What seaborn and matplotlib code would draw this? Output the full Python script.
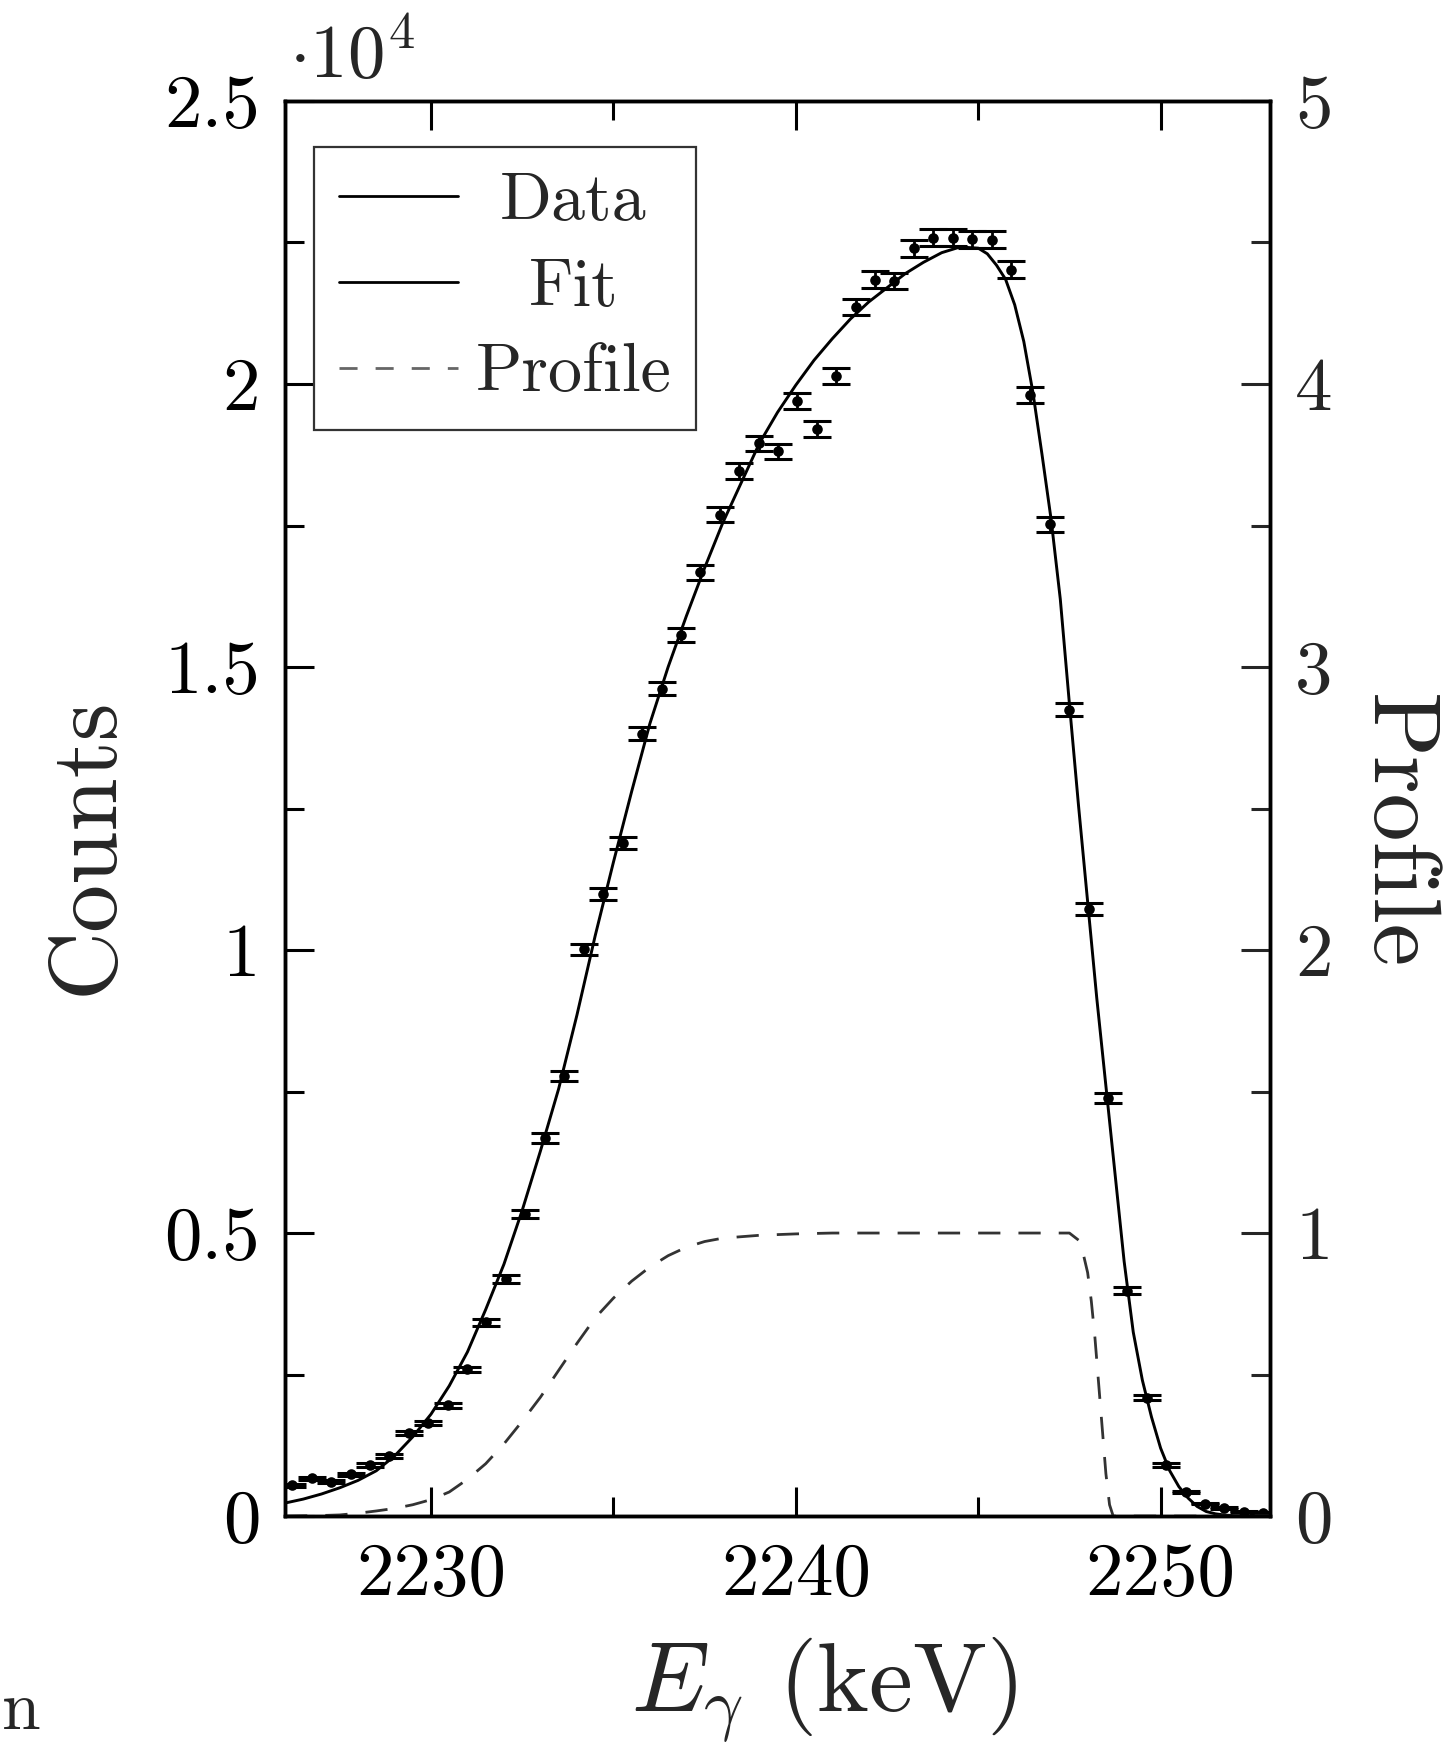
import numpy as np
import pandas as pd
import matplotlib
matplotlib.use("Agg")
import matplotlib.pyplot as plt
import seaborn as sns
from matplotlib.lines import Line2D
from matplotlib.ticker import MultipleLocator

# ---------------- data ----------------
energy = [2226.20, 2226.73, 2227.26, 2227.80, 2228.33, 2228.86, 2229.39, 2229.93,
          2230.46, 2230.99, 2231.52, 2232.06, 2232.59, 2233.12, 2233.65, 2234.19,
          2234.72, 2235.25, 2235.78, 2236.32, 2236.85, 2237.38, 2237.91, 2238.45,
          2238.98, 2239.51, 2240.04, 2240.57, 2241.11, 2241.64, 2242.17, 2242.70,
          2243.24, 2243.77, 2244.30, 2244.83, 2245.37, 2245.90, 2246.43, 2246.96,
          2247.50, 2248.03, 2248.56, 2249.09, 2249.63, 2250.16, 2250.69, 2251.22,
          2251.75, 2252.29, 2252.82]
counts = [540, 670, 610, 740, 900, 1060, 1470, 1640,
          1960, 2590, 3420, 4190, 5340, 6680, 7780, 10010,
          10990, 11890, 13820, 14620, 15560, 16670, 17690, 18460,
          18950, 18810, 19700, 19200, 20140, 21360, 21840, 21820,
          22400, 22580, 22580, 22560, 22550, 22020, 19800, 17520,
          14245, 10720, 7380, 3980, 2090, 900, 420, 220,
          140, 80, 60]
count_err = [23, 26, 25, 27, 30, 33, 38, 40,
             44, 51, 58, 65, 73, 82, 88, 100,
             105, 109, 118, 121, 125, 129, 133, 136,
             138, 137, 140, 139, 142, 146, 148, 148,
             150, 150, 150, 150, 150, 148, 141, 132,
             119, 104, 86, 63, 46, 30, 20, 15,
             12, 9, 8]

fit_energy = [2226.0, 2226.5, 2227.0, 2227.5, 2228.0, 2228.5, 2229.0, 2229.5,
              2230.0, 2230.5, 2231.0, 2231.5, 2232.0, 2232.5, 2233.0, 2233.5,
              2234.0, 2234.5, 2235.0, 2235.5, 2236.0, 2236.5, 2237.0, 2237.5,
              2238.0, 2238.5, 2239.0, 2239.5, 2240.0, 2240.5, 2241.0, 2241.5,
              2242.0, 2242.5, 2243.0, 2243.5, 2244.0, 2244.5, 2245.0, 2245.25,
              2245.5, 2245.75, 2246.0, 2246.25, 2246.5, 2246.75, 2247.0, 2247.25,
              2247.5, 2247.75, 2248.0, 2248.25, 2248.5, 2248.75, 2249.0, 2249.25,
              2249.5, 2249.75, 2250.0, 2250.25, 2250.5, 2250.75, 2251.0, 2251.25,
              2251.5, 2251.75, 2252.0, 2252.5, 2253.0]
fit_counts = [230, 300, 390, 500, 630, 800, 1060, 1400,
              1800, 2300, 2900, 3650, 4450, 5400, 6450, 7550,
              8850, 10250, 11550, 12800, 14000, 15000, 15900, 16750,
              17550, 18250, 18950, 19500, 19980, 20420, 20800, 21150,
              21450, 21700, 21950, 22150, 22320, 22420, 22400, 22300,
              22100, 21850, 21400, 20750, 19850, 18750, 17600, 16200,
              14350, 12550, 10850, 9150, 7600, 6050, 4500, 3250,
              2400, 1750, 1200, 800, 520, 320, 170, 80,
              40, 18, 8, 2, 0]

profile_energy = [2226.0, 2227.0, 2227.5, 2228.0, 2228.5, 2229.0, 2229.5, 2230.0,
                  2230.5, 2231.0, 2231.5, 2232.0, 2232.5, 2233.0, 2233.5, 2234.0,
                  2234.5, 2235.0, 2235.5, 2236.0, 2236.5, 2237.0, 2237.5, 2238.0,
                  2239.0, 2240.0, 2241.0, 2247.5, 2247.8, 2248.0, 2248.1, 2248.2,
                  2248.3, 2248.4, 2248.5, 2248.6, 2248.7, 2253.0]
profile_value = [0.000, 0.002, 0.004, 0.010, 0.018, 0.027, 0.040, 0.058,
                 0.085, 0.130, 0.185, 0.255, 0.335, 0.420, 0.515, 0.610,
                 0.700, 0.770, 0.830, 0.880, 0.920, 0.950, 0.970, 0.982,
                 0.992, 0.997, 1.000, 1.000, 0.970, 0.860, 0.760, 0.630,
                 0.470, 0.310, 0.150, 0.040, 0.000, 0.000]

y_ticks = [0, 5000, 10000, 15000, 20000, 25000]
y_ticklabels = ["0", "0.5", "1", "1.5", "2", "2.5"]
x_ticks = [2230, 2240, 2250]
x_ticklabels = ["2230", "2240", "2250"]
p_ticks = [0, 1, 2, 3, 4, 5]
p_ticklabels = ["0", "1", "2", "3", "4", "5"]
legend_labels = ["Data", "Fit", "Profile"]

# ---------------- style ----------------
sns.set_theme(style="ticks")
plt.rcParams["font.family"] = ["cmr10", "DejaVu Serif"]
plt.rcParams["mathtext.fontset"] = "cm"
plt.rcParams["axes.formatter.use_mathtext"] = True
plt.rcParams["axes.unicode_minus"] = False

TICK_FS = 54
LABEL_FS = 69
LEG_FS = 49

fig = plt.figure(figsize=(14.5, 17.44), dpi=100)
ax = fig.add_axes([0.1966, 0.1307, 0.6793, 0.8114])

df_data = pd.DataFrame({"energy": energy, "counts": counts, "err": count_err})
df_fit = pd.DataFrame({"energy": fit_energy, "counts": fit_counts})
df_prof = pd.DataFrame({"energy": profile_energy, "profile": profile_value})

# fit curve
sns.lineplot(data=df_fit, x="energy", y="counts", ax=ax, color="black",
             linewidth=2.1, legend=False, zorder=2)
# data with error bars
ax.errorbar(df_data["energy"], df_data["counts"], yerr=df_data["err"], fmt="none",
            ecolor="black", elinewidth=2.0, capsize=10.3, capthick=2.2, zorder=3)
sns.scatterplot(data=df_data, x="energy", y="counts", ax=ax, color="black",
                s=58, linewidth=0, legend=False, zorder=4)

ax.set_xlim(2226.0, 2253.0)
ax.set_ylim(0, 25000)
ax.set_xticks(x_ticks, labels=x_ticklabels)
ax.xaxis.set_minor_locator(MultipleLocator(5))
ax.set_yticks(y_ticks, labels=y_ticklabels)
ax.yaxis.set_minor_locator(MultipleLocator(2500))
ax.tick_params(axis="both", which="both", direction="in", colors="black")
ax.tick_params(axis="x", which="both", top=True, bottom=True)
ax.tick_params(axis="y", which="both", left=True, right=False)
ax.tick_params(which="major", length=21, width=2.2, labelsize=TICK_FS)
ax.tick_params(which="minor", length=14, width=2.2)
ax.tick_params(axis="x", which="major", pad=19)
ax.tick_params(axis="y", which="major", pad=18)
for sp in ax.spines.values():
    sp.set_linewidth(2.5)
    sp.set_color("black")

ax.set_xlabel(r"$E_\gamma$ (keV)", fontsize=LABEL_FS + 2)
ax.set_ylabel("Counts", fontsize=LABEL_FS)
ax.xaxis.label.set_va("center")
ax.yaxis.label.set_va("center")
ax.xaxis.set_label_coords(0.547, -0.123)
ax.yaxis.set_label_coords(-0.200, 0.474)

# multiplier text
ax.text(0.004, 1.0163, r"$\cdot 10^{4}$", transform=ax.transAxes,
        fontsize=TICK_FS, ha="left", va="baseline")

# profile on the right axis
ax2 = ax.twinx()
sns.lineplot(data=df_prof, x="energy", y="profile", ax=ax2, color="#333333",
             linewidth=2.0, linestyle=(0, (8, 6.5)), legend=False)
ax2.set_ylim(0, 5)
ax2.set_yticks(p_ticks, labels=p_ticklabels)
ax2.yaxis.set_minor_locator(MultipleLocator(0.5))
ax2.tick_params(axis="y", which="both", direction="in", right=True, left=False)
ax2.tick_params(which="major", length=21, width=2.2, labelsize=TICK_FS, pad=18)
ax2.tick_params(which="minor", length=14, width=2.2)
for sp in ax2.spines.values():
    sp.set_linewidth(2.5)
    sp.set_color("black")
ax2.set_ylabel("Profile", fontsize=LABEL_FS, rotation=270)
ax2.yaxis.label.set_va("center")
ax2.yaxis.set_label_coords(1.126, 0.484)
ax2.set_xlabel("")

handles = [Line2D([], [], color="black", lw=2.0),
           Line2D([], [], color="black", lw=2.0),
           Line2D([], [], color="#666666", lw=2.0, linestyle=(0, (6.5, 6.5)))]
leg = ax2.legend(handles, legend_labels, loc="upper left",
                 bbox_to_anchor=(0.0294, 0.9677), borderaxespad=0,
                 fontsize=LEG_FS, frameon=True, fancybox=False, framealpha=1,
                 edgecolor="#333333", handlelength=1.75, handletextpad=0.25,
                 labelspacing=0.36, borderpad=0.37)
leg.get_frame().set_linewidth(1.6)

# centre the legend texts within the text column (as in the reference)
fig.canvas.draw()
renderer = fig.canvas.get_renderer()
widths = [t.get_window_extent(renderer).width for t in leg.get_texts()]
maxw = max(widths)
rows = leg._legend_handle_box.get_children()[0].get_children()
for row, w in zip(rows, widths):
    row.sep = row.sep + (maxw - w) / 2 * 72.0 / fig.dpi

# caption fragment at the bottom-left of the reference
fig.text(0.001, 0.001, "n", fontsize=50, ha="left", va="bottom")

fig.savefig("out.png", dpi=100)
